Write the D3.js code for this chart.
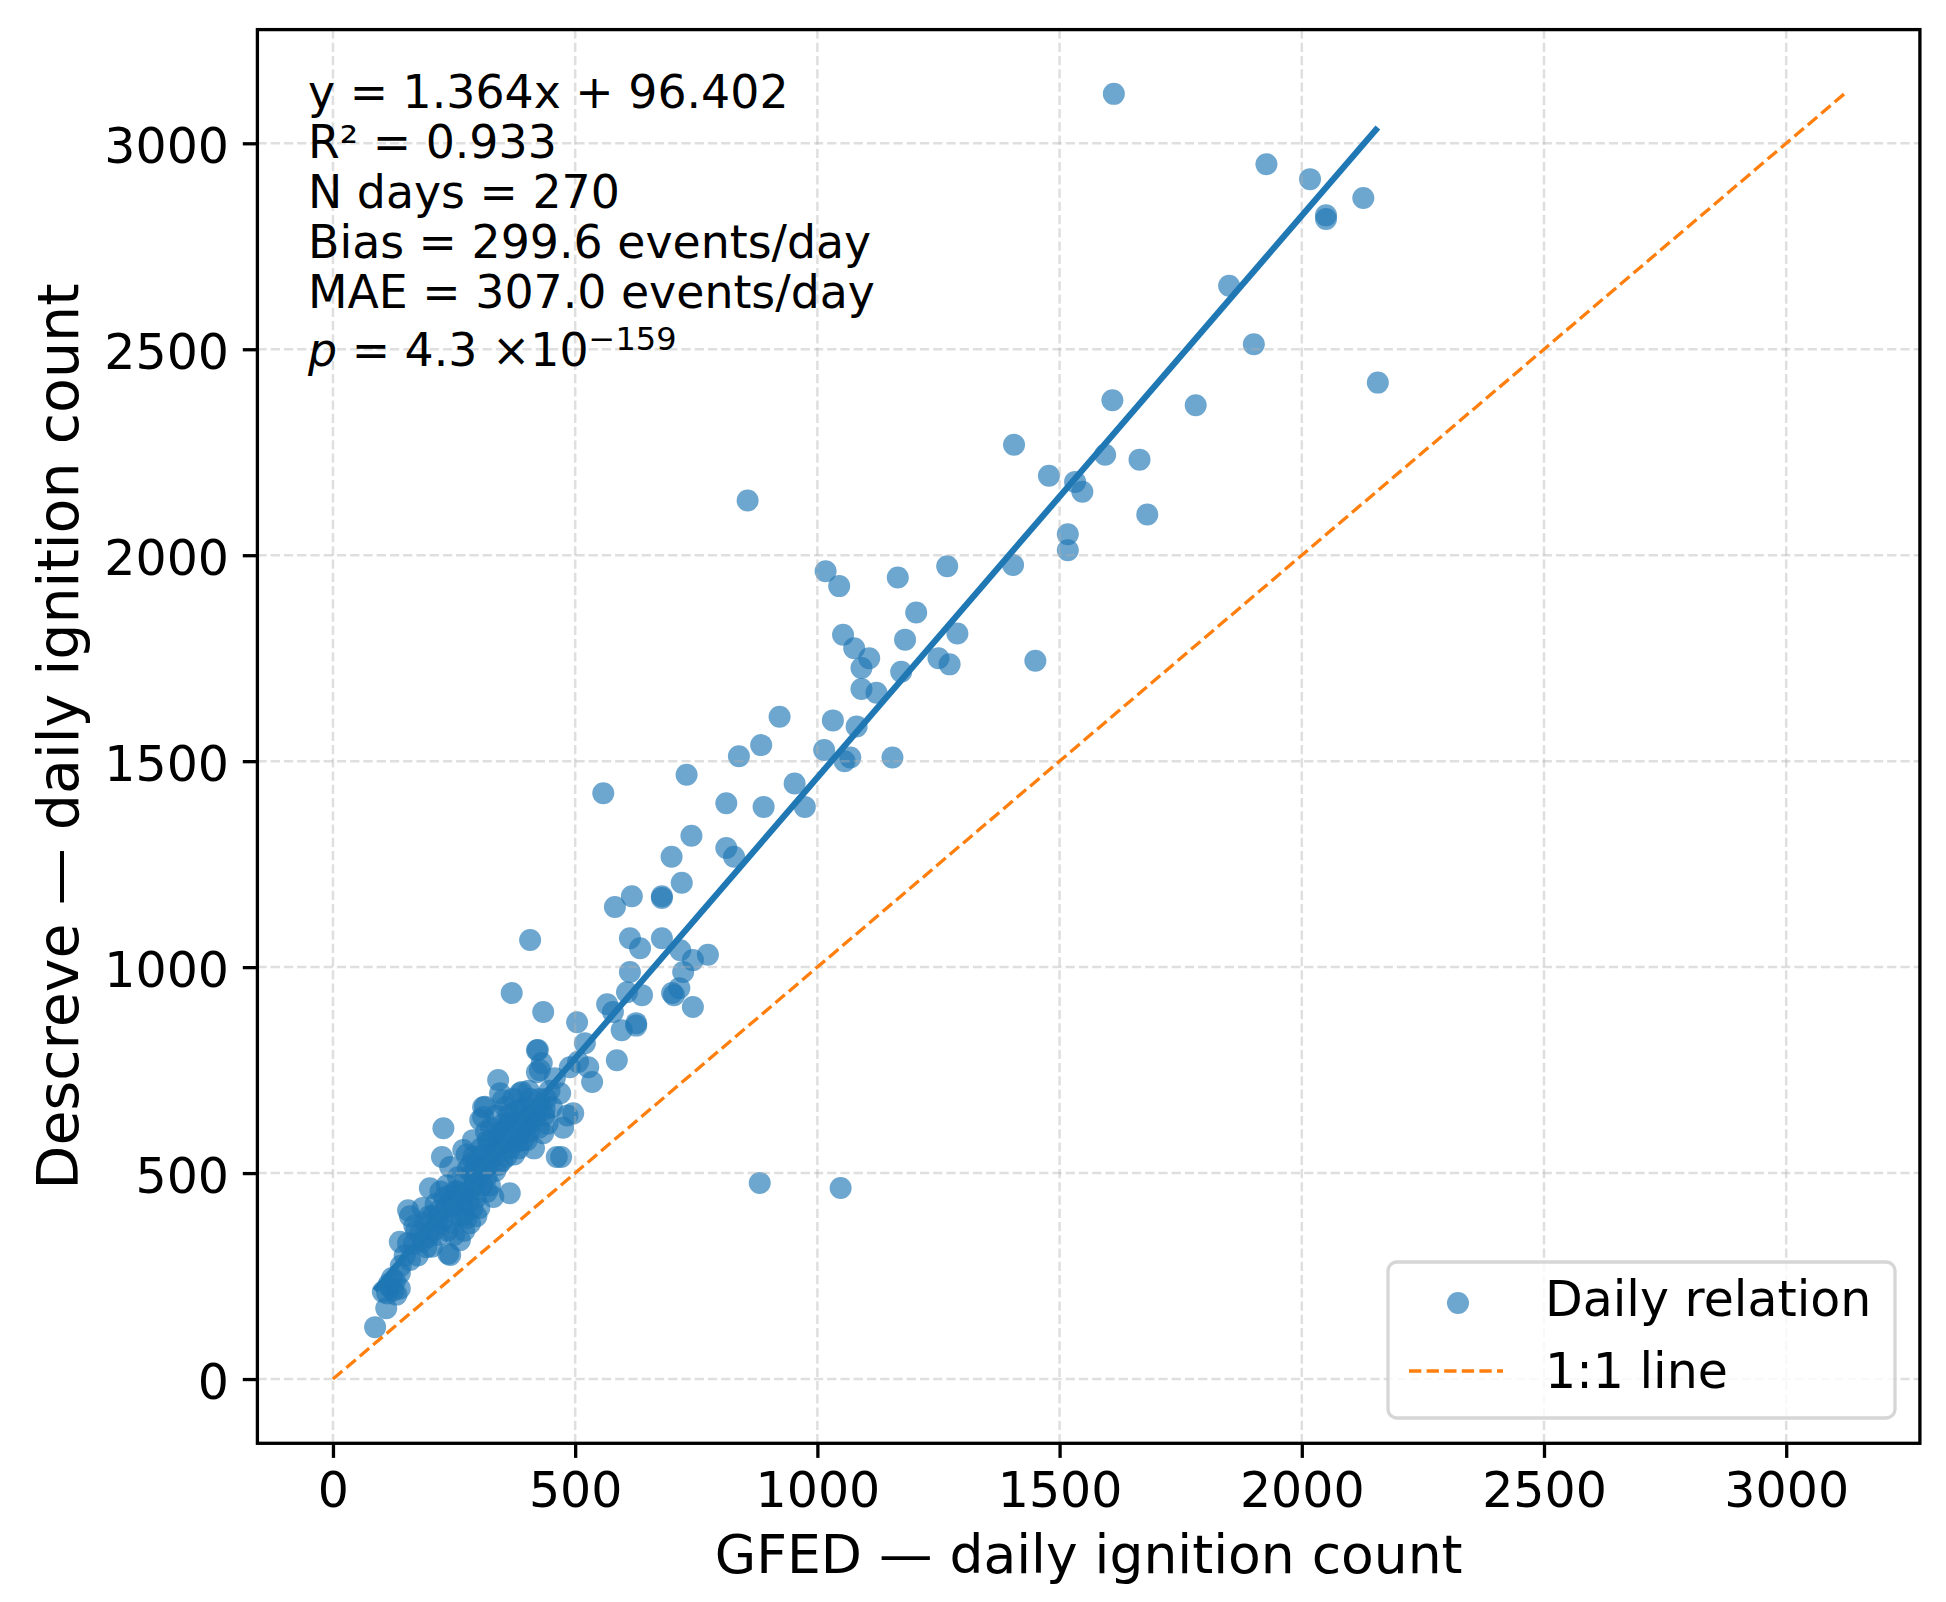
<!DOCTYPE html>
<html>
<head>
<meta charset="utf-8">
<script src="https://cdn.jsdelivr.net/npm/d3@7"></script>
<style>
  body { margin: 0; background: #fff; }
  svg { display: block; font-family: "DejaVu Sans", sans-serif; }
</style>
</head>
<body>
<svg id="chart" width="1946" height="1602"></svg>
<script>
// daily ignition counts (x = GFED, y = Descreve)
const gfed = [
  1612, 1927, 2017, 2127, 2050, 2050, 1850, 1901, 2157, 1609,
  1781, 1406, 1594, 1665, 1478, 1532, 1547, 1681, 856, 1517,
  1517, 1404, 1017, 1045, 1166, 1268, 1204, 1053, 1076, 1107,
  1091, 1181, 1289, 1250, 1273, 1450, 1173, 1122, 1091, 922,
  1032, 1081, 884, 838, 1014, 1068, 1056, 1155, 730, 558,
  953, 812, 889, 974, 740, 812, 828, 699, 720, 679,
  679, 617, 582, 679, 613, 407, 717, 774, 743, 634,
  613, 723, 715, 700, 704, 638, 607, 743, 566, 369,
  434, 626, 626, 504, 596, 578, 586, 520, 506, 527,
  535, 489, 881, 1048, 471, 496, 87, 110, 103, 112,
  118, 125, 131, 138, 115, 122, 138, 128, 140, 159,
  138, 155, 167, 184, 155, 159, 172, 180, 190, 196,
  175, 148, 185, 200, 198, 193, 168, 204, 210, 215,
  220, 225, 228, 230, 235, 238, 242, 242, 245, 248,
  250, 252, 255, 258, 212, 218, 226, 233, 240, 206,
  236, 244, 257, 222, 214, 262, 265, 268, 269, 272,
  275, 278, 280, 283, 285, 287, 289, 290, 292, 295,
  298, 300, 302, 304, 306, 308, 310, 310, 312, 314,
  315, 317, 318, 320, 267, 273, 284, 288, 293, 303,
  316, 271, 276, 296, 322, 324, 326, 328, 331, 333,
  335, 337, 339, 341, 342, 344, 345, 347, 349, 351,
  352, 354, 356, 358, 359, 361, 363, 365, 366, 368,
  370, 372, 374, 376, 378, 323, 336, 350, 364, 377,
  380, 383, 386, 388, 390, 392, 394, 396, 398, 400,
  403, 405, 408, 410, 412, 415, 418, 421, 421, 423,
  425, 427, 429, 431, 434, 436, 440, 443, 447, 452,
  458, 462, 469, 475, 484, 382, 389, 404, 426, 437
];
const descreve = [
  3120, 2949, 2913, 2867, 2825, 2816, 2654, 2512, 2419, 2376,
  2364, 2268, 2244, 2232, 2193, 2178, 2154, 2099, 2133, 2051,
  2012, 1976, 1961, 1925, 1946, 1973, 1861, 1807, 1774, 1750,
  1726, 1795, 1810, 1750, 1735, 1744, 1717, 1666, 1675, 1608,
  1599, 1584, 1539, 1512, 1527, 1509, 1500, 1509, 1467, 1422,
  1446, 1398, 1389, 1389, 1319, 1289, 1268, 1268, 1205, 1172,
  1168, 1172, 1146, 1070, 1070, 1066, 1041, 1030, 1017, 1046,
  988, 988, 949, 937, 932, 932, 939, 903, 910, 937,
  891, 864, 858, 866, 847, 891, 774, 815, 770, 757,
  721, 757, 476, 464, 539, 645, 126, 172, 212, 208,
  222, 215, 205, 220, 230, 245, 257, 238, 275, 289,
  333, 330, 328, 334, 410, 395, 360, 354, 380, 345,
  300, 300, 415, 463, 395, 320, 372, 321, 362, 390,
  410, 539, 609, 440, 470, 304, 301, 515, 380, 420,
  350, 455, 400, 490, 425, 350, 385, 415, 445, 395,
  360, 430, 455, 455, 372, 337, 420, 450, 556, 480,
  390, 510, 430, 378, 460, 500, 580, 540, 470, 440,
  520, 490, 415, 629, 560, 470, 660, 636, 510, 661,
  545, 490, 455, 580, 395, 445, 520, 415, 505, 540,
  600, 360, 545, 395, 520, 470, 610, 550, 442, 590,
  505, 640, 560, 726, 520, 600, 694, 570, 530, 677,
  620, 580, 660, 540, 612, 600, 640, 451, 560, 625,
  590, 680, 545, 610, 650, 575, 545, 600, 580, 575,
  620, 560, 694, 600, 697, 580, 640, 610, 660, 580,
  630, 600, 680, 625, 650, 560, 640, 798, 745, 799,
  610, 750, 660, 767, 597, 640, 680, 620, 700, 660,
  730, 539, 694, 610, 640, 590, 655, 700, 680, 655
];

const fitSlope = 1.364;
const fitIntercept = 96.402;

const xTicks = [0, 500, 1000, 1500, 2000, 2500, 3000];
const yTicks = [0, 500, 1000, 1500, 2000, 2500, 3000];

const statsLines = [
  "y = 1.364x + 96.402",
  "R\u00b2 = 0.933",
  "N days = 270",
  "Bias = 299.6 events/day",
  "MAE = 307.0 events/day"
];
const pMantissa = "4.3";
const pExponent = "\u2212159";

const legendLabels = ["Daily relation", "1:1 line"];
const xLabel = "GFED \u2014 daily ignition count";
const yLabel = "Descreve \u2014 daily ignition count";

// --- layout
const margin = {top: 29.6, right: 26.1, bottom: 158.7, left: 257.4};
const width = 1946 - margin.left - margin.right;
const height = 1602 - margin.top - margin.bottom;
const blue = "#1f77b4", orange = "#ff7f0e";

const svg = d3.select("#chart");
svg.append("rect").attr("width", 1946).attr("height", 1602).attr("fill", "#fff");

const g = svg.append("g").attr("transform", "translate(" + margin.left + "," + margin.top + ")");

// both axes span the 1:1 line with 5% padding
const lim = d3.max(gfed.concat(descreve));
const pad = lim * 0.05;
const x = d3.scaleLinear().domain([-pad, lim + pad]).range([0, width]);
const y = d3.scaleLinear().domain([-pad, lim + pad]).range([height, 0]);

const points = gfed.map((d, i) => ({gfed: d, descreve: descreve[i]}));

// scatter
g.append("g").selectAll("circle")
  .data(points)
  .join("circle")
  .attr("cx", d => x(d.gfed))
  .attr("cy", d => y(d.descreve))
  .attr("r", 11)
  .attr("fill", blue)
  .attr("fill-opacity", 0.65);

// grid (sits above the scatter, below the lines)
const grid = g.append("g")
  .attr("stroke", "#b0b0b0")
  .attr("stroke-opacity", 0.4)
  .attr("stroke-width", 2.5)
  .attr("stroke-dasharray", "9.25,4");
grid.selectAll(".gx").data(xTicks).join("line")
  .attr("x1", d => x(d)).attr("x2", d => x(d))
  .attr("y1", 0).attr("y2", height);
grid.selectAll(".gy").data(yTicks).join("line")
  .attr("y1", d => y(d)).attr("y2", d => y(d))
  .attr("x1", 0).attr("x2", width);

// fitted line over the GFED range
const xr = d3.extent(gfed);
const line = d3.line().x(d => x(d[0])).y(d => y(d[1]));
g.append("path")
  .datum(xr.map(v => [v, fitSlope * v + fitIntercept]))
  .attr("d", line)
  .attr("fill", "none")
  .attr("stroke", blue)
  .attr("stroke-width", 6.2);

// 1:1 line
g.append("path")
  .datum([[0, 0], [lim, lim]])
  .attr("d", line)
  .attr("fill", "none")
  .attr("stroke", orange)
  .attr("stroke-width", 3.3)
  .attr("stroke-dasharray", "12.3,5.3");

// axes
const xAxis = g.append("g")
  .attr("transform", "translate(0," + height + ")")
  .call(d3.axisBottom(x).tickValues(xTicks).tickFormat(d3.format("d")).tickSize(14.6).tickPadding(14.3));
const yAxis = g.append("g")
  .call(d3.axisLeft(y).tickValues(yTicks).tickFormat(d3.format("d")).tickSize(14.6).tickPadding(13.8));
[xAxis, yAxis].forEach(a => {
  a.select(".domain").remove();
  a.selectAll(".tick line").attr("stroke", "#000").attr("stroke-width", 3.3);
  a.selectAll(".tick text")
    .attr("fill", "#000")
    .style("font-family", "DejaVu Sans")
    .style("font-size", "49px");
});
yAxis.selectAll(".tick text").attr("dy", "0.4em");

// frame
g.append("rect")
  .attr("width", width).attr("height", height)
  .attr("fill", "none")
  .attr("stroke", "#000")
  .attr("stroke-width", 3.3);

// stats box text
const stats = g.append("text")
  .attr("font-size", "45.8px")
  .attr("fill", "#000");
statsLines.forEach((s, i) => {
  stats.append("tspan").attr("x", 308 - margin.left).attr("y", 108 - margin.top + i * 50).text(s);
});
const pLine = g.append("text")
  .attr("x", 308 - margin.left)
  .attr("y", 366 - margin.top)
  .attr("font-size", "45.8px")
  .attr("fill", "#000");
pLine.append("tspan").attr("font-style", "italic").text("p");
pLine.append("tspan").text(" = " + pMantissa + " \u00d710");
pLine.append("tspan").attr("dy", -16).attr("font-size", "32px").text(pExponent);

// legend
const lg = svg.append("g").attr("transform", "translate(1388,1262)");
lg.append("rect")
  .attr("width", 507).attr("height", 156)
  .attr("rx", 9).attr("ry", 9)
  .attr("fill", "#fff").attr("fill-opacity", 0.8)
  .attr("stroke", "#cccccc").attr("stroke-opacity", 0.8)
  .attr("stroke-width", 3.3);
lg.append("circle")
  .attr("cx", 70).attr("cy", 41).attr("r", 11)
  .attr("fill", blue).attr("fill-opacity", 0.65);
lg.append("line")
  .attr("x1", 21).attr("x2", 115).attr("y1", 109).attr("y2", 109)
  .attr("stroke", orange).attr("stroke-width", 3.3)
  .attr("stroke-dasharray", "12.3,5.3");
lg.selectAll(".lab").data(legendLabels).join("text")
  .attr("x", 157)
  .attr("y", (d, i) => 54 + i * 72)
  .attr("font-size", "49px")
  .attr("fill", "#000")
  .text(d => d);

// axis labels
svg.append("text")
  .attr("x", margin.left + width / 2)
  .attr("y", 1573)
  .attr("text-anchor", "middle")
  .attr("font-size", "53.5px")
  .attr("fill", "#000")
  .text(xLabel);
svg.append("text")
  .attr("transform", "translate(78," + (margin.top + height / 2) + ") rotate(-90)")
  .attr("text-anchor", "middle")
  .attr("font-size", "57px")
  .attr("fill", "#000")
  .text(yLabel);
</script>
</body>
</html>
